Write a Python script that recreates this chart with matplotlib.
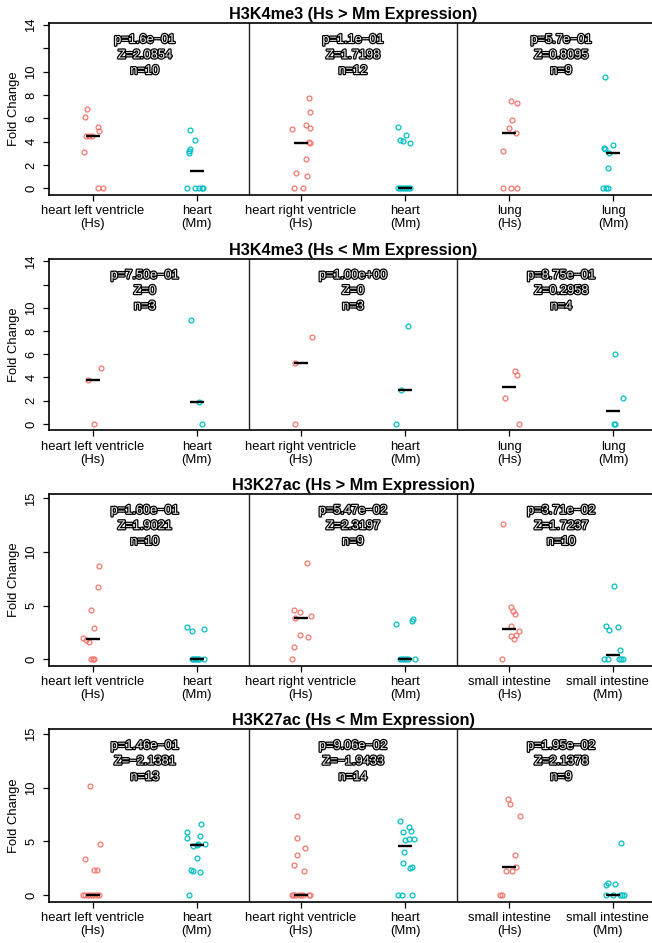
import numpy as np
import matplotlib.pyplot as plt
import matplotlib.patheffects as pe

plt.rcParams['font.family'] = ['Liberation Sans', 'DejaVu Sans']

# colours for human / mouse groups
col_hs = '#F8766D'
col_mm = '#00BFC4'

titles = ['H3K4me3 (Hs > Mm Expression)', 'H3K4me3 (Hs < Mm Expression)',
          'H3K27ac (Hs > Mm Expression)', 'H3K27ac (Hs < Mm Expression)']

labels_lung = ['heart left ventricle\n(Hs)', 'heart\n(Mm)', 'heart right ventricle\n(Hs)',
               'heart\n(Mm)', 'lung\n(Hs)', 'lung\n(Mm)']
labels_si = ['heart left ventricle\n(Hs)', 'heart\n(Mm)', 'heart right ventricle\n(Hs)',
             'heart\n(Mm)', 'small intestine\n(Hs)', 'small intestine\n(Mm)']

# fold change values per group (6 groups per row)
k4_up = [
    [6.79, 6.13, 5.28, 4.93, 4.45, 4.45, 4.45, 3.11, 0, 0],
    [5.02, 4.11, 3.39, 3.22, 3.05, 0, 0, 0, 0, 0],
    [7.73, 6.53, 5.45, 5.16, 5.05, 3.93, 3.88, 2.48, 1.31, 1.03, 0, 0],
    [5.22, 4.59, 4.10, 4.08, 3.88, 0, 0, 0, 0, 0, 0, 0],
    [7.44, 7.33, 5.85, 5.13, 4.76, 3.22, 0, 0, 0],
    [9.50, 3.74, 3.45, 3.39, 3.02, 1.71, 0, 0, 0],
]
k4_down = [
    [4.80, 3.77, 0],
    [8.92, 1.87, 0],
    [7.45, 5.23, 0],
    [8.43, 2.93, 0],
    [4.57, 4.17, 2.19, 0],
    [6.04, 2.19, 0, 0],
]
k27_up = [
    [8.66, 6.74, 4.63, 2.92, 1.95, 1.85, 1.62, 0, 0, 0],
    [3.01, 2.61, 2.86, 0, 0, 0, 0, 0, 0, 0],
    [9.00, 4.60, 4.38, 3.82, 4.04, 2.24, 2.11, 1.18, 0],
    [3.29, 3.60, 3.76, 0, 0, 0, 0, 0, 0],
    [12.64, 4.84, 4.53, 4.25, 3.10, 2.61, 2.27, 2.14, 1.89, 0],
    [6.80, 3.07, 2.76, 3.04, 0.90, 0, 0, 0, 0, 0],
]
k27_down = [
    [10.12, 4.72, 3.39, 2.36, 2.30, 0, 0, 0, 0, 0, 0, 0, 0],
    [6.58, 5.84, 5.34, 5.47, 4.60, 4.65, 4.72, 4.75, 3.42, 2.33, 2.24, 2.11, 0],
    [7.39, 5.34, 4.41, 3.76, 2.83, 2.20, 0, 0, 0, 0, 0, 0, 0, 0],
    [6.86, 5.87, 6.30, 5.96, 5.09, 5.19, 5.22, 4.04, 2.95, 2.55, 2.64, 0, 0, 0],
    [8.98, 8.45, 7.33, 3.73, 2.58, 2.27, 2.24, 0, 0],
    [4.84, 0.93, 1.15, 0.99, 0, 0, 0, 0, 0],
]

# horizontal jitter of each point
k4_up_jit = [
    [-0.058, -0.07, 0.05, 0.06, -0.067, -0.04, -0.005, -0.087, 0.05, 0.096],
    [-0.07, -0.02, -0.07, -0.08, -0.08, -0.09, -0.02, 0.02, 0.045, 0.06],
    [0.077, 0.087, 0.048, 0.09, -0.083, 0.08, 0.087, 0.045, -0.048, 0.054, -0.064, 0.022],
    [-0.064, 0.013, -0.05, -0.016, 0.05, -0.07, -0.05, -0.03, -0.01, 0.01, 0.03, 0.05],
    [0.016, 0.074, 0.03, 0.0, 0.064, -0.055, -0.055, 0.013, 0.08],
    [-0.083, 0.0, -0.09, -0.083, -0.04, -0.05, -0.096, -0.07, -0.05],
]
k4_down_jit = [
    [0.077, -0.05, 0.01],
    [-0.06, 0.02, 0.045],
    [0.106, -0.061, -0.061],
    [0.026, -0.035, -0.087],
    [0.058, 0.074, -0.042, 0.09],
    [0.016, 0.096, 0.01, 0.02],
]
k27_up_jit = [
    [0.064, 0.054, -0.02, 0.01, -0.09, -0.068, -0.04, -0.016, 0.0, 0.013],
    [-0.09, -0.045, 0.067, -0.05, -0.035, -0.02, -0.005, 0.01, 0.025, 0.07],
    [0.058, -0.064, -0.006, -0.058, 0.1, -0.013, 0.07, -0.07, -0.087],
    [-0.083, 0.064, 0.08, -0.05, -0.03, -0.01, 0.01, 0.03, 0.1],
    [-0.06, 0.02, 0.035, 0.055, 0.013, 0.09, 0.07, 0.016, 0.045, -0.067],
    [0.003, -0.07, -0.04, 0.048, 0.067, -0.093, -0.048, 0.058, 0.077, 0.096],
]
k27_down_jit = [
    [-0.026, 0.07, -0.07, 0.016, 0.045, -0.09, -0.07, -0.05, -0.03, -0.01, 0.01, 0.04, 0.06],
    [0.042, -0.096, -0.09, 0.032, -0.04, 0.0, 0.01, 0.08, 0.0, -0.06, -0.04, 0.03, -0.08],
    [-0.035, -0.042, 0.035, -0.038, -0.07, 0.032, -0.09, -0.08, -0.06, -0.02, 0.0, 0.02, 0.08, 0.09],
    [-0.045, -0.022, 0.042, 0.058, 0.0, 0.042, 0.087, -0.01, -0.022, 0.05, 0.064, -0.067, -0.029, 0.064],
    [-0.01, 0.01, 0.1, 0.058, 0.067, -0.035, 0.026, -0.087, -0.067],
    [0.074, -0.074, -0.05, 0.013, -0.07, -0.003, 0.067, 0.087, 0.103],
]

# test statistics per tissue pair
k4_up_stats = [('p=1.6e\u221201', 'Z=2.0854', 'n=10'), ('p=1.1e\u221201', 'Z=1.7198', 'n=12'),
               ('p=5.7e\u221201', 'Z=0.8095', 'n=9')]
k4_down_stats = [('p=7.50e\u221201', 'Z=0', 'n=3'), ('p=1.00e+00', 'Z=0', 'n=3'),
                 ('p=8.75e\u221201', 'Z=0.2958', 'n=4')]
k27_up_stats = [('p=1.60e\u221201', 'Z=1.9021', 'n=10'), ('p=5.47e\u221202', 'Z=2.3197', 'n=9'),
                ('p=3.71e\u221202', 'Z=1.7237', 'n=10')]
k27_down_stats = [('p=1.46e\u221201', 'Z=\u22122.1381', 'n=13'), ('p=9.06e\u221202', 'Z=\u22121.9433', 'n=14'),
                  ('p=1.95e\u221202', 'Z=2.1378', 'n=9')]

rows = [
    (k4_up, k4_up_jit, k4_up_stats, labels_lung, (-0.57, 14.13), [0, 2, 4, 6, 8, 10, 12, 14]),
    (k4_down, k4_down_jit, k4_down_stats, labels_lung, (-0.55, 14.2), [0, 2, 4, 6, 8, 10, 12, 14]),
    (k27_up, k27_up_jit, k27_up_stats, labels_si, (-0.62, 15.4), [0, 5, 10, 15]),
    (k27_down, k27_down_jit, k27_down_stats, labels_si, (-0.62, 15.43), [0, 5, 10, 15]),
]

fig = plt.figure(figsize=(6.52, 9.43), dpi=100)
bottoms = [0.7932, 0.5437, 0.2937, 0.0438]
heights = [0.1821, 0.1817, 0.1824, 0.1828]

halo = [pe.withStroke(linewidth=1.8, foreground='black')]

for r, (vals, jit, stats, labels, ylim, yticks) in enumerate(rows):
    ax = fig.add_axes([49 / 652, bottoms[r], 608 / 652, heights[r]])
    for g in range(6):
        x0 = g + 1
        col = col_hs if g % 2 == 0 else col_mm
        v = np.array(vals[g])
        ax.plot(x0 + np.array(jit[g]), v, 'o', ms=3.5, mfc='none', mec=col, mew=0.9,
                clip_on=False, zorder=3)
        med = np.median(v)
        ax.plot([x0 - 0.068, x0 + 0.068], [med, med], color='black', lw=1.7, zorder=4,
                solid_capstyle='butt')
    for xs in (2.5, 4.5):
        ax.axvline(xs, color='#222222', lw=1.0)
    for k, (p, z, n) in enumerate(stats):
        for txt, yf in ((p, 0.903), (z, 0.813), (n, 0.722)):
            ax.text(1.5 + 2 * k, yf, txt, transform=ax.get_xaxis_transform(),
                    ha='center', va='center', fontsize=9.2, color='#f2f2f2',
                    path_effects=halo, zorder=5)
    ax.set_xlim(0.58, 6.42)
    ax.set_ylim(*ylim)
    ax.set_xticks(range(1, 7))
    # last label drawn separately; long ones pulled a little left to stay on the page
    shift = -4 if len(labels[-1]) > 12 else 0
    ax.set_xticklabels(labels[:-1] + [''], fontsize=9.4, linespacing=1.1)
    ax.annotate(labels[-1], xy=(6, 0), xycoords=ax.get_xaxis_transform(),
                xytext=(shift, -7.5), textcoords='offset points', ha='center', va='top',
                fontsize=9.4, linespacing=1.1, annotation_clip=False)
    ax.set_yticks(yticks)
    ax.set_yticklabels(['' if t == 12 else str(t) for t in yticks], fontsize=9.4,
                       rotation=90, va='center')
    ax.tick_params(direction='out', length=4.5, width=0.9, pad=3)
    ax.tick_params(axis='y', pad=4)
    ax.spines['right'].set_visible(False)
    for s in ('left', 'top', 'bottom'):
        ax.spines[s].set_linewidth(1.2)
    ax.set_ylabel('Fold Change', fontsize=9.4)
    ax.yaxis.set_label_coords(-29 / 608, 0.5)
    ax.set_title(titles[r], fontsize=11.7, fontweight='bold', pad=3)

fig.savefig('out.png', dpi=100)
